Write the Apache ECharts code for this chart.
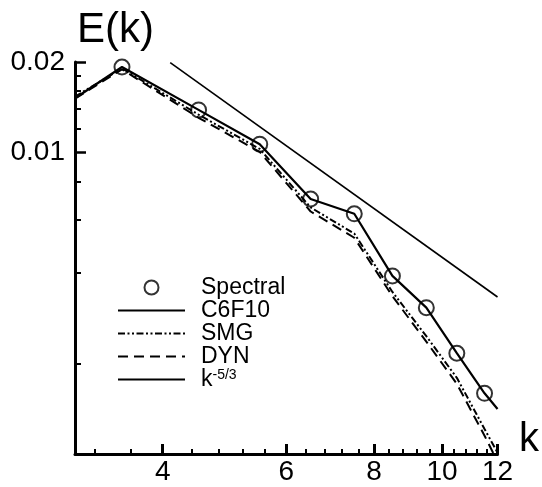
<!DOCTYPE html>
<html>
<head>
<meta charset="utf-8">
<script src="https://cdn.jsdelivr.net/npm/echarts@6/dist/echarts.min.js"></script>
<style>
  html, body { margin: 0; padding: 0; background: #fff; }
  #chart { width: 542px; height: 487px; }
</style>
</head>
<body>
<div id="chart"></div>
<script>
// Wavenumbers of the model runs (edge points included)
const kModel = [3, 3.5, 4.5, 5.5, 6.5, 7.5, 8.5, 9.5, 10.5, 11.5, 12];
const kDyn = [3, 3.5, 4.5, 5.5, 6.5, 7.5, 8.5, 9.5, 10.5, 11.5, 11.85];
// Wavenumbers of the spectral reference
const kSpectral = [3.5, 4.5, 5.5, 6.5, 7.5, 8.5, 9.5, 10.5, 11.5];

// Energy spectra E(k)
const eSpectral = [0.01925, 0.01387, 0.01067, 0.00702, 0.00627, 0.0039, 0.00306, 0.00216, 0.00159];
const eC6F10 = [0.01516, 0.01925, 0.01387, 0.01067, 0.00702, 0.00627, 0.0039, 0.00306, 0.00216, 0.00159, 0.00141];
const eSMG = [0.01535, 0.01905, 0.01337, 0.01029, 0.00658, 0.00539, 0.00345, 0.00246, 0.00179, 0.00121, 0.00101];
const eDYN = [0.01512, 0.01891, 0.01306, 0.01006, 0.00638, 0.00522, 0.00334, 0.00236, 0.00171, 0.00115, 0.001];

// Reference slope line k^-5/3
const kSlope = [4.1, 12];
const eSlope = [0.0199, 0.00332];

// Axis ticks
const xMajor = [4, 6, 8, 10, 12];
const xMinor = [3.2, 3.6, 4.4, 4.8, 5.2, 5.6, 6.4, 6.8, 7.2, 7.6, 8.4, 8.8, 9.2, 9.6, 10.4, 10.8, 11.2, 11.6];
const yMajor = [0.01, 0.02];
const yMinor = [0.002, 0.004, 0.006, 0.008, 0.012, 0.014, 0.016, 0.018];

const FONT = "'Liberation Sans', Arial, Helvetica, sans-serif";
const pairs = (xs, ys) => xs.map((x, i) => [x, ys[i]]);

const GRID = { left: 75, right: 35, top: 62, bottom: 33 };
const PLOT_H = 487 - GRID.top - GRID.bottom;

const chart = echarts.init(document.getElementById('chart'), null, { renderer: 'canvas' });

const baseX = {
  type: 'log', logBase: 10, min: 3, max: 12,
  splitLine: { show: false }, minorTick: { show: false }, minorSplitLine: { show: false }
};
const baseY = {
  type: 'log', logBase: 10, min: 0.001, max: 0.02,
  splitLine: { show: false }, minorTick: { show: false }, minorSplitLine: { show: false }
};

// Line-only legend entries: hide the marker drawn in the middle of the icon
const hiddenMarker = { opacity: 0 };

chart.setOption({
  animation: false,
  backgroundColor: '#fff',
  color: ['#000'],
  textStyle: { fontFamily: FONT, color: '#000' },
  grid: Object.assign({ containLabel: false }, GRID),
  xAxis: [
    Object.assign({}, baseX, {
      position: 'bottom',
      name: 'k', nameLocation: 'end', nameGap: 8,
      nameTextStyle: { fontFamily: FONT, fontSize: 40, color: '#000', verticalAlign: 'bottom', align: 'left', padding: [0, 0, -6, 0] },
      axisLine: { show: true, onZero: false, lineStyle: { color: '#000', width: 3 } },
      axisTick: { show: true, inside: true, length: 10, lineStyle: { color: '#000', width: 3 }, customValues: xMajor },
      axisLabel: { show: true, fontFamily: FONT, fontSize: 28, color: '#000', margin: 4, customValues: xMajor,
        formatter: v => String(Math.round(v)) }
    }),
    // minor ticks: a second log axis laid over the bottom edge, ticks pointing up
    Object.assign({}, baseX, {
      position: 'top', offset: -PLOT_H,
      axisLine: { show: false, onZero: false },
      axisTick: { show: true, inside: false, length: 5, lineStyle: { color: '#000', width: 2 }, customValues: xMinor },
      axisLabel: { show: false }
    })
  ],
  yAxis: [
    Object.assign({}, baseY, {
      position: 'left',
      name: 'E(k)', nameLocation: 'end', nameGap: 11,
      nameTextStyle: { fontFamily: FONT, fontSize: 42, color: '#000', align: 'left', padding: [0, 0, 0, 2] },
      axisLine: { show: true, onZero: false, lineStyle: { color: '#000', width: 3 } },
      axisTick: { show: true, inside: true, length: 11, lineStyle: { color: '#000', width: 2.5 }, customValues: yMajor },
      axisLabel: { show: true, fontFamily: FONT, fontSize: 28, color: '#000', margin: 10, customValues: yMajor,
        formatter: v => v.toFixed(2) }
    }),
    // minor ticks on the left edge
    Object.assign({}, baseY, {
      position: 'left',
      axisLine: { show: false, onZero: false },
      axisTick: { show: true, inside: true, length: 6, lineStyle: { color: '#000', width: 2 }, customValues: yMinor },
      axisLabel: { show: false }
    })
  ],
  legend: {
    orient: 'vertical', left: 117, top: 276, padding: 0,
    itemWidth: 67, itemHeight: 14, itemGap: 0,
    textStyle: { fontFamily: FONT, fontSize: 23, color: '#000', lineHeight: 22, padding: [0, 0, 0, 11],
      rich: {
        b: { fontFamily: FONT, fontSize: 23, color: '#000' },
        s: { fontFamily: FONT, fontSize: 14, color: '#000', verticalAlign: 'top', padding: [0, 0, 12, 0] }
      }
    },
    formatter: name => name === 'k-5/3' ? '{b|k}{s|-5/3}' : name,
    data: [
      { name: 'Spectral' },
      { name: 'C6F10', itemStyle: hiddenMarker },
      { name: 'SMG', itemStyle: hiddenMarker },
      { name: 'DYN', itemStyle: hiddenMarker },
      { name: 'k-5/3', itemStyle: hiddenMarker }
    ]
  },
  series: [
    {
      name: 'k-5/3', type: 'line', data: pairs(kSlope, eSlope),
      showSymbol: false, clip: true,
      itemStyle: { color: '#000' },
      lineStyle: { color: '#000', width: 1.6 }
    },
    {
      name: 'DYN', type: 'line', data: pairs(kDyn, eDYN),
      showSymbol: false, clip: true,
      itemStyle: { color: '#000' },
      lineStyle: { color: '#000', width: 2, type: [10, 6] }
    },
    {
      name: 'SMG', type: 'line', data: pairs(kModel, eSMG),
      showSymbol: false, clip: true,
      itemStyle: { color: '#000' },
      lineStyle: { color: '#000', width: 2, type: [7, 2.5, 2, 2.5, 2, 2.5] }
    },
    {
      name: 'C6F10', type: 'line', data: pairs(kModel, eC6F10),
      showSymbol: false, clip: true,
      itemStyle: { color: '#000' },
      lineStyle: { color: '#000', width: 2.2 }
    },
    {
      name: 'Spectral', type: 'scatter', data: pairs(kSpectral, eSpectral),
      symbol: 'circle', symbolSize: 15,
      itemStyle: { color: 'rgba(0,0,0,0)', borderColor: '#000', borderWidth: 2 },
      z: 5
    }
  ]
});
</script>
</body>
</html>
